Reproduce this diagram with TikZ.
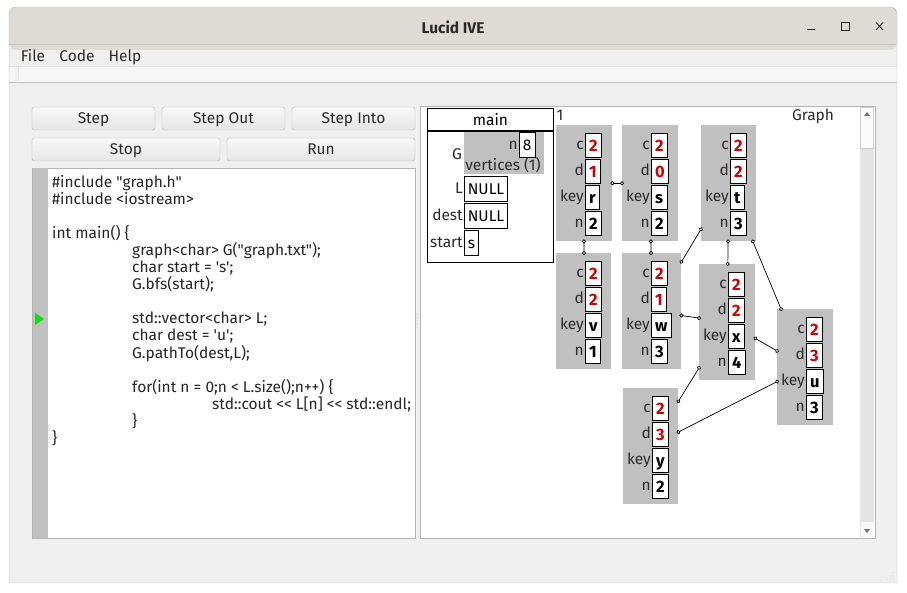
\documentclass[tikz,border=0pt]{standalone}
\usepackage{fontspec}
\setmainfont{Fira Sans}
\newfontfamily\codefont{Fira Sans}

\usetikzlibrary{arrows.meta,positioning}

\definecolor{titlebg}{HTML}{DEDAD6}
\definecolor{winbg}{HTML}{EFEFEF}
\definecolor{toolbg}{HTML}{F6F6F6}
\definecolor{frameline}{HTML}{B4B4B4}
\definecolor{vtxgray}{HTML}{C0C0C0}
\definecolor{valred}{HTML}{D00000}
\definecolor{inkdark}{HTML}{2A2A2A}
\definecolor{pcgreen}{HTML}{11E011}
\definecolor{trackgray}{HTML}{E4E4E4}

\newcommand{\uisize}{\fontsize{15.5}{18}\selectfont}
\newcommand{\valsize}{\fontsize{16.5}{19}\selectfont}

% one record of the graph view: name, top left x, y, width, c, d, key, n
\newcommand{\gvertex}[8]{%
  \node[vtx, minimum width=#4pt, anchor=north west] (#1) at (#2,#3) {};
  \node[valbox, anchor=north west, text=valred] (#1-c) at ({#2+29},{#3+8}) {#5};
  \node[valbox, anchor=north west, text=valred] (#1-d) at ({#2+29},{#3+34}) {#6};
  \node[valbox, anchor=north west] (#1-k) at ({#2+29},{#3+60}) {#7};
  \node[valbox, anchor=north west] (#1-n) at ({#2+29},{#3+86}) {#8};
  \node[fieldlbl, left=0pt of #1-c] {c};
  \node[fieldlbl, left=0pt of #1-d] {d};
  \node[fieldlbl, left=0pt of #1-k] {key};
  \node[fieldlbl, left=0pt of #1-n] {n};
}

\begin{document}
\begin{tikzpicture}[
    x=1pt, y=-1pt,
    % window widgets
    btn/.style={draw=frameline, rounded corners=2.5pt, top color=white!97!black,
      bottom color=white!90!black, minimum height=23pt, inner sep=0pt,
      text height=11pt, text depth=0pt, font=\uisize, text=inkdark},
    menuitem/.style={anchor=base, font=\uisize, text=inkdark, inner sep=0pt},
    codeline/.style={anchor=base west, font=\uisize\codefont, text=black!85, inner sep=0pt},
    % graph view
    vtx/.style={fill=vtxgray, minimum height=116pt, inner sep=0pt},
    valbox/.style={draw, fill=white, line width=0.8pt, minimum height=24pt,
      inner xsep=3.8pt, inner ysep=0pt, text height=12pt, text depth=0pt,
      font=\valsize\bfseries},
    plainbox/.style={draw, fill=white, line width=0.8pt, minimum height=25pt,
      inner xsep=3.5pt, inner ysep=0pt, text height=11pt, text depth=0pt,
      font=\uisize},
    fieldlbl/.style={inner sep=0pt, inner xsep=1pt, text height=11pt,
      text depth=2pt, font=\uisize, text=inkdark},
    frame/.style={draw, fill=white, line width=0.8pt, inner sep=0pt, font=\uisize},
    link/.style={line width=0.7pt, {Circle[fill=white,length=4pt,width=4pt]}-{Circle[fill=white,length=4pt,width=4pt]},
      shorten <=-2pt, shorten >=-2pt},
  ]
  \useasboundingbox (0,0) rectangle (907,593);
  \fill[white] (0,0) rectangle (907,593);

  % window frame and bars
  \fill[winbg] (9,44) rectangle (897,583);
  \fill[titlebg, rounded corners=7pt] (9,7) rectangle (897,50);
  \fill[titlebg] (9,30) rectangle (897,44);
  \fill[toolbg] (9,66) rectangle (897,82);
  \draw[black!22] (9,44) -- (897,44);
  \draw[black!12] (9,66) -- (897,66);
  \draw[black!25] (9,82) -- (897,82);
  \draw[black!28] (9,583) -- (9,44) [rounded corners=7pt] -- (9,7) -- (897,7)
    [sharp corners] -- (897,44) -- (897,583) -- cycle;
  \foreach \hy in {68,70,...,80} {
    \fill[black!35] (16,\hy) circle (0.45pt);
    \fill[black!35] (18.5,\hy) circle (0.45pt);
  }
  \node[font=\uisize\bfseries, text=inkdark] (title) at (453,27) {Lucid IVE};
  \draw[inkdark, line width=0.9pt] (807,29.5) -- (815,29.5);
  \draw[inkdark, line width=0.9pt] (841,22.5) rectangle (849,30.5);
  \draw[inkdark, line width=0.9pt] (876,22.5) -- (883,30) (876,30) -- (883,22.5);

  % menu
  \node[menuitem] (mfile) at (33,62) {File};
  \node[menuitem] (mcode) at (77,62) {Code};
  \node[menuitem] (mhelp) at (125,62) {Help};

  % debugger buttons
  \foreach \bn/\bx/\by/\bw/\bt in {bstep/93.5/118.5/123/Step,
      bout/223.5/118.5/123/Step Out, binto/353.5/118.5/123/Step Into,
      bstop/126/149.5/188/Stop, brun/321/149.5/188/Run}
    \node[btn, minimum width=\bw pt] (\bn) at (\bx,\by) {\bt};

  % code editor
  \draw[frameline, fill=white] (32,168) rectangle (415,538);
  \fill[vtxgray] (32.5,168.5) rectangle (48,537.5);
  \fill[pcgreen] (35,313) -- (44,319) -- (35,325) -- cycle;
  \node[codeline] (l1) at (52,188) {\#include "graph.h"};
  \node[codeline] (l2) at (52,205) {\#include <iostream>};
  \node[codeline] (l4) at (52,239) {int main() \{};
  \node[codeline] (l5) at (132,256) {graph<char> G("graph.txt");};
  \node[codeline] (l6) at (132,273) {char start = 's';};
  \node[codeline] (l7) at (132,290) {G.bfs(start);};
  \node[codeline] (l9) at (132,324) {std::vector<char> L;};
  \node[codeline] (l10) at (132,341) {char dest = 'u';};
  \node[codeline] (l11) at (132,358) {G.pathTo(dest,L);};
  \node[codeline] (l13) at (132,392) {for(int n = 0;n < L.size();n++) \{};
  \node[codeline] (l14) at (212,409) {std::cout << L[n] << std::endl;};
  \node[codeline] (l15) at (132,426) {\}};
  \node[codeline] (l16) at (52,443) {\}};

  % splitter and size grips
  \foreach \gy in {315,318,...,327}
    \fill[black!35] (417.5,\gy) circle (0.45pt);
  \foreach \gx/\gy in {893/573, 893/576, 890/576, 893/579, 890/579, 887/579}
    \fill[black!35] (\gx,\gy) circle (0.45pt);

  % graph view
  \draw[frameline, fill=white] (420,106) rectangle (875,538);
  \fill[trackgray] (860,107) rectangle (874,537);
  \draw[black!20, fill=white!98!black] (860.5,107.5) rectangle (873.5,148);
  \fill[white!97!black] (860.5,522) rectangle (873.5,537.5);
  \fill[black!55] (864,116) -- (870,116) -- (867,112) -- cycle;
  \fill[black!55] (864,529) -- (870,529) -- (867,533) -- cycle;
  \node[font=\uisize, text=inkdark] (vlbl) at (813,116) {Graph};
  \node[font=\uisize, text=inkdark, inner sep=0pt] (depth) at (560,115) {1};

  % stack frame of main
  \node[frame, anchor=north west, minimum width=126pt, minimum height=22pt] (mainhead) at (427,108) {main};
  \node[frame, anchor=north, minimum width=126pt, minimum height=131pt] (mainbody) at (mainhead.south) {};
  \node[vtx, anchor=north west, minimum width=80pt, minimum height=42pt] (gfield) at (464,132) {};
  \node[plainbox, anchor=north west] (gn) at (519,132) {8};
  \node[fieldlbl, left=0pt of gn] {n};
  \node[fieldlbl] (gvert) at (503,166) {vertices (1)};
  \node[fieldlbl, anchor=east] (glbl) at (463,155) {G};
  \node[plainbox, anchor=north west] (lval) at (464,176) {NULL};
  \node[fieldlbl, left=0pt of lval] {L};
  \node[plainbox, anchor=north west] (dval) at (464,203) {NULL};
  \node[fieldlbl, left=0pt of dval] {dest};
  \node[plainbox, anchor=north west] (sval) at (464,230) {s};
  \node[fieldlbl, left=0pt of sval] {start};

  % vertices
  \foreach \vn/\vx/\vy/\vw/\vc/\vd/\vk/\vm in {vr/556/125/56/2/1/r/2,
      vs/622/125/56/2/0/s/2, vt/701/125/55/2/2/t/3, vv/556/253/55/2/2/v/1,
      vw/622/253/59/2/1/w/3, vx/699/264/56/2/2/x/4, vu/777/309/56/2/3/u/3,
      vy/623/388/55/2/3/y/2}
    \gvertex{\vn}{\vx}{\vy}{\vw}{\vc}{\vd}{\vk}{\vm};

  % adjacency links
  \foreach \a/\b in {vr/vs, vr/vv, vs/vw, vw/vt, vt/vx, vt/vu, vw/vx, vx/vu, vy/vx, vy/vu}
    \draw[link] (\a) -- (\b);
\end{tikzpicture}
\end{document}
